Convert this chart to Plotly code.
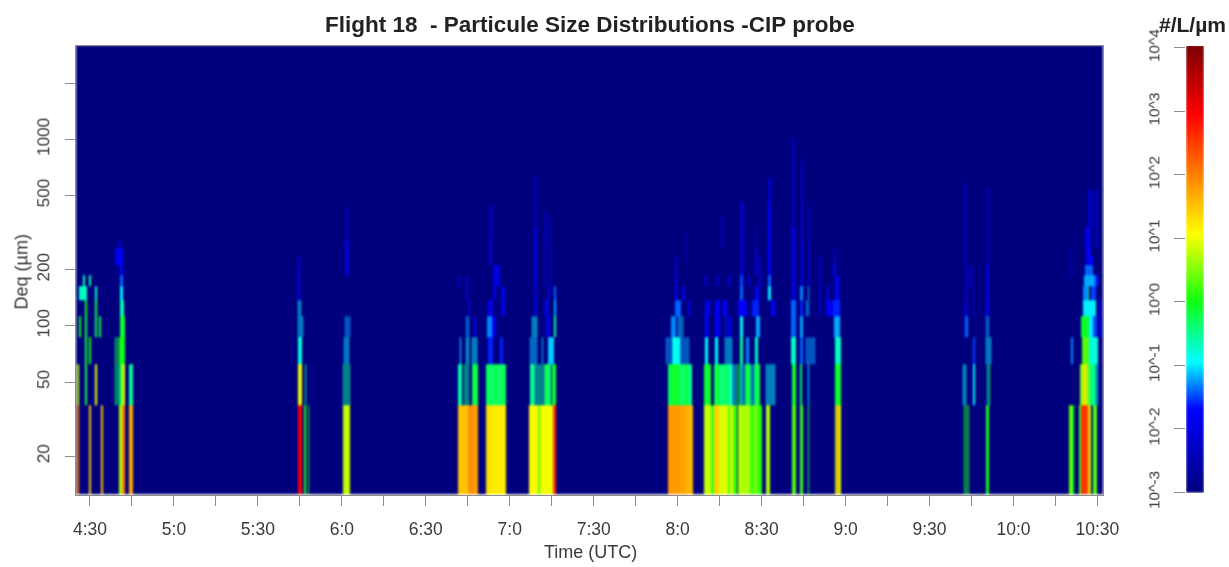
import numpy as np
import plotly.graph_objects as go

# --- Particle size bins of the CIP probe (µm): 25 µm wide, last bin runs to the top of the scale
bin_edges = [12.5 + 25 * i for i in range(62)] + [3200.0]
BACKGROUND = -3.0          # log10(#/L/µm) where nothing was counted
SAMPLE_MIN = 1 / 8.4       # one time sample, in minutes
AXIS_START, AXIS_END = 265.0, 632.0

# Each record: (first bin, last bin, first sample, last sample, log10 concentration)
leg1_base = 262.86
leg1_cells = [
    (0,0,20,28,2.0),(1,1,20,28,0.8),(3,3,26,32,0.0),(5,5,28,50,-0.7),(6,6,40,46,-0.6),(4,4,44,50,0.0),
    (1,3,46,50,-0.1),(0,0,58,64,1.5),(2,2,58,62,0.0),(6,6,58,64,-0.6),(1,1,76,82,1.0),(3,4,76,82,-0.2),
    (5,5,74,82,-0.7),(3,3,86,92,-0.2),(0,0,94,100,1.5),
    (8,9,136,146,-1.8),
    (0,0,146,155,0.7),(1,1,146,156,-0.3),(2,2,148,165,0.0),(3,3,150,165,-0.1),(4,4,150,162,-0.6),
    (5,5,150,160,-1.0),(6,6,150,160,-1.4),(7,7,150,160,-1.7),(8,9,146,158,-1.8),(10,10,146,154,-2.0),
    (0,0,155,166,2.0),(1,1,156,166,0.9),(0,0,178,188,1.7),(1,1,178,188,-0.5),
    (0,0,683,696,3.0),(1,1,683,696,1.0),(2,2,683,696,-0.8),
    (5,6,683,690,-1.8),(7,8,683,689,-2.1),(0,0,702,709,0.1),(0,0,713,718,0.0),
    (0,0,820,840,0.8),(7,10,826,836,-2.1),
    (11,16,828,834,-2.3),
]
# Intermittent counts: every other 3-sample step only, same record layout
leg1_intermittent = [
    (1,1,136,146,-0.3),(2,2,136,146,-0.2),(1,1,820,840,-0.5),(2,2,822,840,-1.0),(3,3,824,840,-1.2),
    (3,3,685,700,-1.0),(4,4,685,695,-1.0),(1,1,706,712,-0.4),
]

leg2_base = 398.57
leg2_cells = [
    (0,0,25,55,1.5),(0,0,55,70,1.9),(0,0,70,85,1.8),(1,1,25,38,-0.6),(1,1,66,85,-0.2),
    (4,4,55,62,-2.2),(3,3,72,78,-1.8),
    (5,6,50,55,-2.2),(6,6,26,31,-2.3),
    (0,0,108,125,1.3),(0,0,125,168,1.2),(1,1,108,168,-0.3),(2,2,115,130,-1.6),(2,2,150,160,-1.6),
    (3,3,112,128,-1.3),(3,3,128,138,-1.9),(4,4,115,130,-1.9),(4,4,155,165,-2.0),(5,5,130,138,-2.0),
    (5,5,155,165,-2.0),(6,7,130,138,-2.0),(6,7,140,150,-2.0),(8,10,118,126,-2.2),(11,16,122,130,-2.4),
    (0,0,238,265,1.1),(0,0,265,272,0.3),(0,0,272,310,1.0),(0,0,310,318,2.6),
    (1,1,240,252,-0.5),(1,1,284,300,-0.3),(1,1,306,320,-0.1),
    (2,2,295,312,-1.1),
    (3,3,290,300,-1.9),(3,3,312,318,-0.5),
    (4,4,255,262,-1.7),(4,4,285,295,-1.7),(4,4,312,318,-1.2),(5,5,255,262,-1.8),(5,5,295,300,-1.9),
    (5,5,312,318,-1.4),(6,12,254,261,-2.0),(13,24,254,260,-2.3),(6,10,285,290,-2.1),(6,9,300,305,-2.0),
    (11,15,282,288,-2.4),(10,14,295,300,-2.4),
]
leg2_intermittent = [
    (1,1,44,60,-0.5),(2,2,30,38,-1.0),(2,2,48,58,-0.9),(2,2,68,82,-0.9),(3,3,48,62,-1.2),
    (1,1,252,280,-0.6),(1,1,300,306,-0.5),(2,2,242,266,-1.1),(2,2,276,284,-1.1),(3,3,248,266,-0.9),
]

leg3_base = 473.57
leg3_cells = [
    (0,0,25,60,1.8),(0,0,60,80,1.75),(0,0,80,100,1.6),(1,1,25,35,-0.3),(1,1,35,60,-0.1),(1,1,60,75,-0.4),
    (1,1,75,85,-0.1),(1,1,85,97,-0.5),(2,2,38,60,-0.9),(3,3,35,50,-1.3),
    (4,4,45,65,-1.4),(4,4,85,92,-1.8),(5,5,45,52,-1.7),(5,5,68,75,-2.0),(6,6,45,52,-1.9),
    (7,8,45,52,-2.2),(8,11,75,80,-2.4),
    (0,0,133,153,0.8),(0,0,153,163,0.2),(0,0,163,178,1.4),(0,0,178,205,0.9),(0,0,205,212,0.3),(0,0,212,220,0.9),
    (0,0,220,232,0.2),(0,0,235,272,0.7),(0,0,272,280,0.2),(0,0,280,295,0.4),(0,0,295,308,0.1),(0,0,318,332,0.7),
    (1,1,133,153,-0.1),(1,1,163,180,-0.2),(1,1,180,190,-0.5),(1,1,190,205,-0.3),(1,1,205,218,-0.6),
    (1,1,255,270,-0.2),(1,1,285,302,-0.2),
    (2,2,135,145,-0.9),(2,2,165,175,-0.9),(2,2,240,250,-0.5),(2,2,260,268,-1.3),(2,2,285,295,-0.7),
    (3,3,135,145,-1.7),(3,3,165,180,-1.8),(3,3,195,200,-1.6),(3,3,205,215,-1.8),(3,3,240,250,-0.9),(3,3,288,302,-1.2),
    (4,4,135,150,-1.9),(4,4,165,182,-1.7),(4,4,190,202,-1.7),(4,4,235,262,-1.7),(4,4,278,298,-1.6),(4,4,335,345,-1.8),
    (5,5,240,250,-1.4),(5,5,285,298,-1.7),(5,5,325,335,-1.0),
    (6,6,135,141,-2.0),(6,6,170,176,-2.0),(6,6,205,212,-2.0),(6,6,242,250,-1.5),(6,6,265,272,-2.0),(6,6,298,305,-2.0),(6,6,325,333,-1.4),
    (7,17,244,250,-1.7),(7,9,287,292,-2.0),(7,8,298,305,-2.1),(7,23,326,333,-1.8),(18,22,326,332,-2.3),
    (10,14,185,190,-2.4),(9,12,285,290,-2.3),
    (0,0,397,408,0.3),(0,0,420,430,0.2),(1,1,397,408,-0.1),(1,1,422,428,-0.2),
    (2,2,393,408,-0.7),(2,2,422,430,-1.4),(3,3,393,408,-1.4),(3,3,422,430,-1.2),
    (4,4,393,408,-1.4),(4,4,422,430,-1.6),(5,5,397,405,-1.7),(5,5,422,430,-1.3),
    (6,12,397,405,-1.8),(13,39,397,403,-2.2),(6,10,423,430,-1.8),(11,30,423,430,-2.2),(6,16,445,450,-2.3),
    (0,0,525,530,0.5),(0,0,530,538,1.6),(0,0,538,543,0.8),(1,1,525,543,-0.1),(2,2,525,543,-0.7),(3,3,522,540,-1.2),
    (4,4,500,520,-1.8),(4,4,520,540,-1.6),(5,5,502,508,-2.0),(5,5,525,537,-1.7),(6,6,525,537,-1.8),(7,7,520,530,-1.9),
    (8,9,522,530,-2.2),(4,8,478,483,-2.3),
]
leg3_intermittent = [
    (2,2,20,38,-1.2),(2,2,60,92,-1.2),(3,3,55,72,-1.1),
    (1,1,218,230,-1.0),(1,1,230,245,-0.2),(1,1,245,255,-1.0),(1,1,270,285,-0.7),(1,1,320,345,-0.9),(2,2,195,220,-1.0),
    (2,2,440,465,-1.2),(4,4,440,452,-1.2),(5,5,445,452,-1.2),(1,1,445,452,-1.0),(0,0,445,452,-0.2),
]

leg4_base = 577.14
leg4_cells = [
    (3,3,46,56,-1.4),(4,4,46,52,-1.8),(5,7,50,56,-2.1),(8,22,44,50,-2.3),
    (1,1,70,76,-1.0),(2,2,70,76,-1.5),(4,5,70,75,-2.0),(6,7,65,70,-2.2),
    (0,0,110,118,0.0),(4,4,110,120,-1.9),
    (5,7,110,118,-2.0),(8,20,112,120,-2.3),
    (0,0,358,368,0.4),(0,0,368,375,0.0),(2,2,365,370,-1.3),(7,9,362,368,-2.4),
    (0,0,388,396,0.2),(0,0,396,414,2.6),(0,0,414,420,2.0),(0,0,420,425,0.8),(0,0,432,442,0.3),
    (1,1,392,400,0.5),(1,1,400,410,1.3),(1,1,410,420,0.6),(1,1,420,438,-0.4),
    (2,2,398,418,0.3),(2,2,418,445,-0.8),(3,3,396,418,-0.1),(3,3,418,430,-1.0),(3,3,432,442,-1.5),(3,3,448,455,-1.8),
    (4,4,402,440,-1.0),(4,4,448,454,-1.8),(5,5,400,415,-1.3),(5,5,415,420,-0.3),(5,5,425,440,-1.5),
    (6,6,404,440,-1.2),(6,6,437,447,-1.6),(7,7,408,432,-1.4),(8,8,410,430,-1.8),(9,9,410,425,-1.7),
    (10,12,408,424,-2.0),(13,20,415,430,-2.3),(10,20,436,446,-2.4),
]
leg4_intermittent = [
    (0,0,45,58,0.0),(1,1,40,52,-0.9),(1,1,112,124,-0.4),(2,2,110,124,-1.0),(3,3,110,122,-1.2),(1,1,438,447,-0.9),
]

legs = [(leg1_base, leg1_cells, leg1_intermittent), (leg2_base, leg2_cells, leg2_intermittent),
        (leg3_base, leg3_cells, leg3_intermittent), (leg4_base, leg4_cells, leg4_intermittent)]

# --- Axis labels
y_ticks = [20, 50, 100, 200, 500, 1000, 2000]
y_labels = ["20", "50", "100", "200", "500", "1000", ""]
x_ticks = [270 + 15 * i for i in range(25)]
x_labels = [f"{t // 60}:{t % 60}" if t % 30 == 0 else "" for t in x_ticks]
color_ticks = [-3, -2, -1, 0, 1, 2, 3, 4]
color_labels = ["10^-3", "10^-2", "10^-1", "10^0", "10^1", "10^2", "10^3", "10^4"]
jet_scale = [[0, "#00007F"], [0.186, "#0000FF"], [0.293, "#00FFFF"], [0.43, "#10FF10"],
             [0.58, "#FFFF00"], [0.85, "#FF0000"], [1, "#7F0000"]]

# --- Build the size/time grid from the records
def t_of(base, s):
    return round(base + s * SAMPLE_MIN, 3)

times = {AXIS_START, AXIS_END}
for base, cells, inter in legs:
    for _, _, s0, s1, _ in cells:
        times.update((t_of(base, s0), t_of(base, s1)))
    for _, _, s0, s1, _ in inter:
        times.update(t_of(base, s) for s in range(s0, s1 + 1, 3))
        times.add(t_of(base, s1))
time_edges = np.array(sorted(times))
z = np.full((len(bin_edges) - 1, len(time_edges) - 1), BACKGROUND)

def fill(base, b0, b1, s0, s1, val):
    i0 = np.searchsorted(time_edges, t_of(base, s0))
    i1 = np.searchsorted(time_edges, t_of(base, s1))
    z[b0:b1 + 1, i0:i1] = val

for base, cells, inter in legs:
    for b0, b1, s0, s1, val in cells:
        fill(base, b0, b1, s0, s1, val)
    for b0, b1, s0, s1, val in inter:
        for s in range(s0, s1, 6):
            fill(base, b0, b1, s, min(s + 3, s1), val)

W, H = 1229, 567
TEXT = "#3a3a3a"
LINE = "#8c8c8c"
FONT = "Liberation Sans, Arial, sans-serif"

fig = go.Figure()
fig.add_trace(go.Heatmap(x=time_edges, y=bin_edges, z=z, zmin=-3, zmax=4, colorscale=jet_scale,
                         showscale=False, hoverinfo="skip", xaxis="x", yaxis="y"))

ramp = np.arange(-3.0, 4.06, 0.02)
fig.add_trace(go.Heatmap(x=[0, 1], y=ramp, z=ramp[:, None], zmin=-3, zmax=4, colorscale=jet_scale,
                         showscale=False, hoverinfo="skip", xaxis="x2", yaxis="y2"))

def note(text, x, y, size=18, angle=0, color=TEXT, xanchor="center"):
    return dict(text=text, xref="paper", yref="paper", x=x / W, y=1 - y / H, xanchor=xanchor, yanchor="middle",
                showarrow=False, textangle=angle, font=dict(size=size, color=color))

fig.update_layout(
    width=W, height=H, margin=dict(l=0, r=0, t=0, b=0), paper_bgcolor="white", plot_bgcolor="white",
    font=dict(family=FONT, size=14, color=TEXT), showlegend=False,
    xaxis=dict(domain=[76 / W, 1103 / W], range=[AXIS_START, AXIS_END], tickmode="array",
               tickvals=x_ticks, ticktext=x_labels, ticks="outside", ticklen=10, tickcolor=LINE,
               showline=True, mirror=True, linecolor=LINE, showgrid=False, zeroline=False,
               tickfont=dict(size=17.5), ticklabelstandoff=8, anchor="y", automargin=False),
    yaxis=dict(domain=[1 - 495 / H, 1 - 46 / H], type="log", range=[np.log10(12.4), np.log10(3170)],
               tickmode="array", tickvals=y_ticks, ticktext=y_labels, ticks="outside", ticklen=10,
               tickcolor=LINE, tickangle=-90, showline=True, mirror=True, linecolor=LINE,
               showgrid=False, zeroline=False, tickfont=dict(size=17), ticklabelstandoff=9,
               anchor="x", automargin=False),
    xaxis2=dict(domain=[1186 / W, 1204 / W], range=[0, 1], visible=False, anchor="y2", automargin=False),
    yaxis2=dict(domain=[1 - 493 / H, 1 - 46 / H], range=[-3.01, 4.03], side="left", tickmode="array",
                tickvals=color_ticks, ticktext=color_labels, ticks="outside", ticklen=11, tickcolor=LINE,
                tickangle=-90, showline=False, showgrid=False, zeroline=False, tickfont=dict(size=15.5),
                ticklabelstandoff=8, anchor="x2", automargin=False),
    annotations=[
        note("<b>Flight 18  - Particule Size Distributions -CIP probe</b>", 589.5, 24, size=22.5, color="#222222"),
        note("<b>#/L/µm</b>", 1157, 24, size=21, color="#222222", xanchor="left"),
        note("Time (UTC)", 590.5, 551.5),
        note("Deq (µm)", 21.5, 272, angle=-90),
    ],
)

css = ("body{margin:0;overflow:hidden} .hm image{filter:blur(1px)} "
       ".xtick text,.ytick text,.y2tick text,.annotation-text{filter:blur(0.4px)}")
fig.write_html("out.html", config={"displayModeBar": False}, post_script=(
    "var s=document.createElement('style');s.textContent=" + repr(css) + ";document.head.appendChild(s);"))
